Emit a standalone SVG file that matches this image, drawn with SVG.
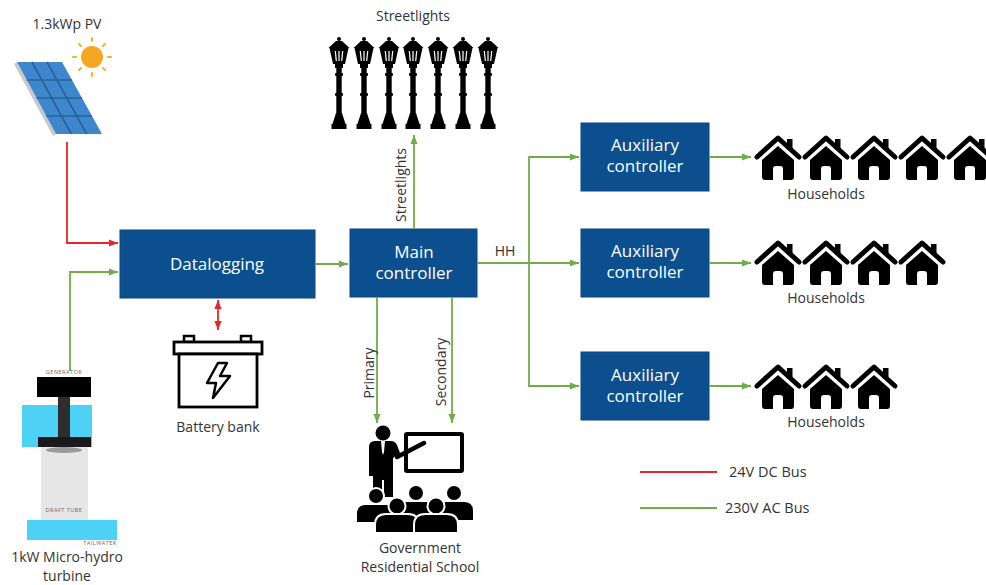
<svg xmlns="http://www.w3.org/2000/svg" width="986" height="585" viewBox="0 0 986 585">
  <style>
    .box { fill: #0b4f8f; stroke: #0a4680; stroke-width: 1; }
    .boxtxt { font-family: "Open Sans", "Liberation Sans", sans-serif; font-size: 17px; fill: #ffffff; text-anchor: middle; }
    .lbl { font-family: "Open Sans", "Liberation Sans", sans-serif; font-size: 14px; fill: #333333; text-anchor: middle; }
    .leg { font-family: "Open Sans", "Liberation Sans", sans-serif; font-size: 14.5px; fill: #333333; }
    .tiny { font-family: "Open Sans", "Liberation Sans", sans-serif; font-size: 5.5px; fill: #666666; text-anchor: middle; letter-spacing: 0.5px; }
    .ac { fill: none; stroke: #70ad47; stroke-width: 1.8; }
    .dc { fill: none; stroke: #e8262a; stroke-width: 1.8; }
  </style>
  <defs>
    <marker id="ga" viewBox="0 0 10 10" refX="10" refY="5" markerWidth="9" markerHeight="9" markerUnits="userSpaceOnUse" orient="auto">
      <path d="M0,1 L10,5 L0,9 z" fill="#70ad47"/>
    </marker>
    <marker id="ra" viewBox="0 0 10 10" refX="10" refY="5" markerWidth="9" markerHeight="9" markerUnits="userSpaceOnUse" orient="auto-start-reverse">
      <path d="M0,1 L10,5 L0,9 z" fill="#e8262a"/>
    </marker>
    <!-- house icon, 46 x 44 -->
    <symbol id="house" viewBox="0 0 48 46" overflow="visible">
      <polyline points="3,22 24,3 45,22" fill="none" stroke="#000" stroke-width="5" stroke-linecap="round" stroke-linejoin="round"/>
      <rect x="33" y="4" width="5.5" height="11" fill="#000"/>
      <path d="M8,25 L24,11 L40,25 L40,42 Q40,45 37,45 L29,45 L29,34 Q29,31 26,31 L22,31 Q19,31 19,34 L19,45 L11,45 Q8,45 8,42 Z" fill="#000"/>
    </symbol>
    <!-- street lamp, centred on x=0 -->
    <symbol id="lamp" viewBox="-12 0 24 94" overflow="visible">
      <circle cx="0" cy="2" r="2" fill="#000"/>
      <polygon points="-3,4 3,4 10.5,11 -10.5,11" fill="#000"/>
      <polygon points="-9.5,11 9.5,11 6,27 -6,27" fill="#000"/>
      <line x1="-3.7" y1="14" x2="-2.7" y2="24" stroke="#fff" stroke-width="1.2"/>
      <line x1="0" y1="14" x2="0" y2="24" stroke="#fff" stroke-width="1.2"/>
      <line x1="3.7" y1="14" x2="2.7" y2="24" stroke="#fff" stroke-width="1.2"/>
      <rect x="-4" y="27" width="8" height="4" fill="#000"/>
      <rect x="-2.7" y="30" width="5.4" height="50" fill="#000"/>
      <rect x="-4" y="36" width="8" height="3" rx="1" fill="#000"/>
      <rect x="-4" y="56" width="8" height="3" rx="1" fill="#000"/>
      <path d="M-3,76 L3,76 L6.5,87 L-6.5,87 Z" fill="#000"/>
      <rect x="-7.5" y="87" width="15" height="5" fill="#000"/>
    </symbol>
  </defs>

  <!-- PV array -->
  <g id="pv">
    <text class="lbl" x="67" y="29">1.3kWp PV</text>
    <g id="sun">
      <circle cx="92" cy="57" r="11" fill="#f5a623"/>
      <g stroke="#f5b335" stroke-width="2.2" stroke-linecap="round">
        <line x1="92" y1="38" x2="92" y2="41"/>
        <line x1="92" y1="73" x2="92" y2="76"/>
        <line x1="73" y1="57" x2="76" y2="57"/>
        <line x1="108" y1="57" x2="111" y2="57"/>
        <line x1="79" y1="44" x2="81" y2="46"/>
        <line x1="103" y1="68" x2="105" y2="70"/>
        <line x1="103" y1="46" x2="105" y2="44"/>
        <line x1="79" y1="70" x2="81" y2="68"/>
      </g>
    </g>
    <polygon points="14,64 17,62 56,134 53,136" fill="#c8c8c8"/>
    <polygon points="17,62 62,62 102,134 56,134" fill="#3d87cc"/>
    <g stroke="#2b5f9a" stroke-width="1.6">
      <line x1="26.75" y1="80" x2="72" y2="80"/>
      <line x1="36.5" y1="98" x2="82" y2="98"/>
      <line x1="46.25" y1="116" x2="92" y2="116"/>
      <line x1="32" y1="62" x2="71.3" y2="134"/>
      <line x1="47" y1="62" x2="86.7" y2="134"/>
    </g>
  </g>

  <!-- micro-hydro turbine -->
  <g id="turbine">
    <text class="tiny" x="64" y="374">GENERATOR</text>
    <rect x="22" y="405" width="70" height="42" fill="#4dd2f5"/>
    <rect x="41" y="447" width="47" height="74" fill="#e6e6e6"/>
    <ellipse cx="64" cy="450" rx="18" ry="3" fill="#9a9a9a"/>
    <rect x="37" y="377" width="54" height="20" fill="#000"/>
    <rect x="58" y="397" width="12" height="42" fill="#2e2e2e"/>
    <rect x="38" y="437" width="53" height="10" fill="#1a1a1a"/>
    <text class="tiny" x="64" y="512">DRAFT TUBE</text>
    <rect x="27" y="520" width="90" height="20" fill="#4dd2f5"/>
    <text class="tiny" x="100" y="545">TAILWATER</text>
    <text class="lbl" x="67" y="562">1kW Micro-hydro</text>
    <text class="lbl" x="67" y="581">turbine</text>
  </g>

  <!-- battery bank -->
  <g id="battery">
    <rect x="184" y="336" width="10" height="6" fill="#fff" stroke="#000" stroke-width="2.5"/>
    <rect x="241" y="336" width="10" height="6" fill="#fff" stroke="#000" stroke-width="2.5"/>
    <rect x="174" y="342" width="88" height="12" fill="#fff" stroke="#000" stroke-width="2.8"/>
    <rect x="179" y="354" width="78" height="53" fill="#fff" stroke="#000" stroke-width="2.8"/>
    <path d="M218,363 L207,383 L216,383 L213,398 L230,376 L220,376 L227,363 Z" fill="none" stroke="#000" stroke-width="2.5" stroke-linejoin="round"/>
    <text class="lbl" x="218" y="432">Battery bank</text>
  </g>

  <!-- controllers -->
  <g id="datalogging">
    <rect class="box" x="120" y="230" width="195" height="68"/>
    <text class="boxtxt" x="217" y="270">Datalogging</text>
  </g>
  <g id="main-controller">
    <rect class="box" x="350" y="229" width="127" height="68"/>
    <text class="boxtxt" x="414" y="258">Main</text>
    <text class="boxtxt" x="414" y="279">controller</text>
  </g>
  <g id="aux-1">
    <rect class="box" x="581" y="123" width="128" height="68"/>
    <text class="boxtxt" x="645" y="151">Auxiliary</text>
    <text class="boxtxt" x="645" y="172">controller</text>
  </g>
  <g id="aux-2">
    <rect class="box" x="581" y="229" width="128" height="68"/>
    <text class="boxtxt" x="645" y="257">Auxiliary</text>
    <text class="boxtxt" x="645" y="278">controller</text>
  </g>
  <g id="aux-3">
    <rect class="box" x="581" y="352" width="128" height="68"/>
    <text class="boxtxt" x="645" y="381">Auxiliary</text>
    <text class="boxtxt" x="645" y="402">controller</text>
  </g>

  <!-- streetlights -->
  <g id="streetlights">
    <text class="lbl" x="413" y="21">Streetlights</text>
    <use href="#lamp" x="327" y="37" width="24" height="94"/>
    <use href="#lamp" x="352" y="37" width="24" height="94"/>
    <use href="#lamp" x="377" y="37" width="24" height="94"/>
    <use href="#lamp" x="401" y="37" width="24" height="94"/>
    <use href="#lamp" x="426" y="37" width="24" height="94"/>
    <use href="#lamp" x="451" y="37" width="24" height="94"/>
    <use href="#lamp" x="476" y="37" width="24" height="94"/>
  </g>

  <!-- households -->
  <g id="households-1">
    <use href="#house" x="754" y="135" width="48" height="46"/>
    <use href="#house" x="802" y="135" width="48" height="46"/>
    <use href="#house" x="850" y="135" width="48" height="46"/>
    <use href="#house" x="898" y="135" width="48" height="46"/>
    <use href="#house" x="946" y="135" width="48" height="46"/>
    <text class="lbl" x="826" y="199">Households</text>
  </g>
  <g id="households-2">
    <use href="#house" x="754" y="240" width="48" height="46"/>
    <use href="#house" x="802" y="240" width="48" height="46"/>
    <use href="#house" x="850" y="240" width="48" height="46"/>
    <use href="#house" x="898" y="240" width="48" height="46"/>
    <text class="lbl" x="826" y="303">Households</text>
  </g>
  <g id="households-3">
    <use href="#house" x="754" y="364" width="48" height="46"/>
    <use href="#house" x="802" y="364" width="48" height="46"/>
    <use href="#house" x="850" y="364" width="48" height="46"/>
    <text class="lbl" x="826" y="427">Households</text>
  </g>

  <!-- school -->
  <g id="school">
    <!-- board -->
    <rect x="406" y="434" width="56" height="37" fill="none" stroke="#000" stroke-width="4" rx="1"/>
    <line x1="397" y1="457" x2="424" y2="443" stroke="#000" stroke-width="4.5" stroke-linecap="round"/>
    <!-- teacher -->
    <circle cx="383" cy="433" r="7.5" fill="#000"/>
    <path d="M369,447 Q369,441 375,441 L391,441 Q395,441 397,445 L400,453 L393,458 L393,497 L384,497 L384,480 L382,480 L382,497 L373,497 L373,476 L369,476 Z" fill="#000"/>
    <path d="M381,441 L385,441 L384,452 L383,455 L382,452 Z" fill="#fff"/>
    <!-- back row of pupils -->
    <g fill="#000" stroke="#fff" stroke-width="2">
      <circle cx="376" cy="496" r="8"/>
      <circle cx="416" cy="493" r="8"/>
      <circle cx="454" cy="493" r="8"/>
      <path d="M356,523 L356,514 Q356,504 366,504 L386,504 Q396,504 396,514 L396,523 Z"/>
      <path d="M396,521 L396,511 Q396,501 406,501 L426,501 Q436,501 436,511 L436,521 Z"/>
      <path d="M434,521 L434,511 Q434,501 444,501 L464,501 Q474,501 474,511 L474,521 Z"/>
      <!-- front row -->
      <circle cx="397" cy="506" r="8.5"/>
      <circle cx="436" cy="506" r="8.5"/>
      <path d="M375,533 L375,525 Q375,514 386,514 L408,514 Q419,514 419,525 L419,533 Z"/>
      <path d="M414,533 L414,525 Q414,514 425,514 L447,514 Q458,514 458,525 L458,533 Z"/>
    </g>
    <text class="lbl" x="420" y="553">Government</text>
    <text class="lbl" x="420" y="572">Residential School</text>
  </g>

  <!-- connectors -->
  <g id="connectors">
    <path class="dc" d="M67,142 V243 H118" marker-end="url(#ra)"/>
    <path class="ac" d="M70,371 V272 H118" marker-end="url(#ga)"/>
    <path class="ac" d="M315,264 H348" marker-end="url(#ga)"/>
    <path class="dc" d="M218,300 V330" marker-start="url(#ra)" marker-end="url(#ra)"/>
    <path class="ac" d="M414,229 V135" marker-end="url(#ga)"/>
    <path class="ac" d="M477,263 H579" marker-end="url(#ga)"/>
    <path class="ac" d="M529,263 V157 H579" marker-end="url(#ga)"/>
    <path class="ac" d="M529,263 V386 H579" marker-end="url(#ga)"/>
    <path class="ac" d="M377,297 V423" marker-end="url(#ga)"/>
    <path class="ac" d="M452,297 V423" marker-end="url(#ga)"/>
    <path class="ac" d="M709,157 H751" marker-end="url(#ga)"/>
    <path class="ac" d="M709,263 H751" marker-end="url(#ga)"/>
    <path class="ac" d="M709,386 H751" marker-end="url(#ga)"/>
    <text class="lbl" x="505" y="256">HH</text>
    <text class="lbl" transform="translate(406,185) rotate(-90)">Streetlights</text>
    <text class="lbl" transform="translate(374,373) rotate(-90)">Primary</text>
    <text class="lbl" transform="translate(446,372) rotate(-90)">Secondary</text>
  </g>

  <!-- legend -->
  <g id="legend">
    <line class="dc" x1="640" y1="472" x2="717" y2="472"/>
    <text class="leg" x="729" y="477">24V DC Bus</text>
    <line class="ac" x1="640" y1="508" x2="717" y2="508"/>
    <text class="leg" x="725" y="513">230V AC Bus</text>
  </g>
</svg>
